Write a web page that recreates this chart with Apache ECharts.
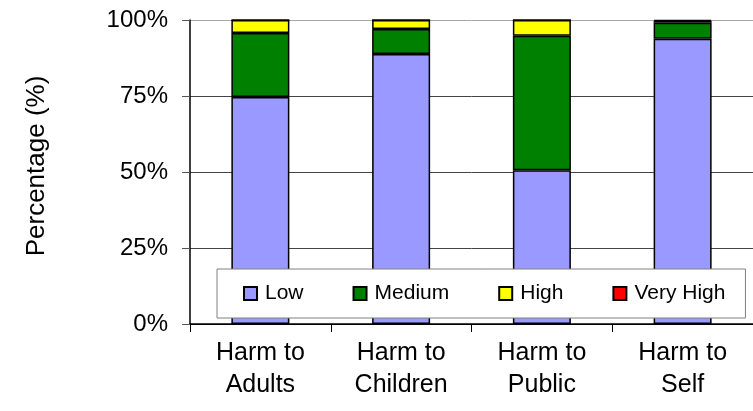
<!DOCTYPE html>
<html>
<head>
<meta charset="utf-8">
<script src="https://cdn.jsdelivr.net/npm/echarts@6/dist/echarts.min.js"></script>
<style>
html,body{margin:0;padding:0;background:#fff;}
#chart{width:753px;height:411px;}
</style>
</head>
<body>
<div id="chart"></div>
<script>
const categories = ['Harm to\nAdults', 'Harm to\nChildren', 'Harm to\nPublic', 'Harm to\nSelf'];
const lowValues = [74.7, 88.8, 50.6, 93.8];
const mediumValues = [21.0, 8.2, 44.2, 5.3];
const highValues = [4.3, 3.0, 5.2, 0.6];
const veryHighValues = [0, 0, 0, 0.3];
const yTickLabels = ['0%', '25%', '50%', '75%', '100%'];

const FONT = 'Liberation Sans, Arial, sans-serif';
const chart = echarts.init(document.getElementById('chart'), null, {renderer: 'canvas'});

function mkSeries(name, data, color) {
  return {
    name: name,
    type: 'bar',
    stack: 'total',
    data: data,
    barWidth: 58,
    itemStyle: {color: color, borderColor: '#000', borderWidth: 1.5},
    emphasis: {disabled: true}
  };
}

chart.setOption({
  animation: false,
  textStyle: {fontFamily: FONT},
  grid: {left: 190, top: 20, width: 569, height: 304, containLabel: false},
  legend: {
    left: 217, top: 269,
    backgroundColor: '#fff',
    borderColor: '#808080', borderWidth: 1,
    padding: [14, 20, 14, 26],
    itemWidth: 13, itemHeight: 13, itemGap: 49,
    icon: 'rect',
    textStyle: {fontFamily: FONT, fontSize: 21, color: '#000', padding: [0, 0, 0, 3]},
    data: ['Low', 'Medium', 'High', 'Very High']
  },
  xAxis: {
    type: 'category',
    data: categories,
    axisLine: {lineStyle: {color: '#000', width: 1.5}},
    axisTick: {show: true, length: 8, lineStyle: {color: '#000'}},
    axisLabel: {fontFamily: FONT, fontSize: 25, color: '#000', lineHeight: 32, margin: 13, interval: 0},
    splitLine: {show: false}
  },
  yAxis: {
    type: 'value',
    min: 0, max: 100, interval: 25,
    name: 'Percentage (%)',
    nameLocation: 'middle',
    nameRotate: 90,
    nameGap: 140,
    nameTextStyle: {fontFamily: FONT, fontSize: 26, color: '#000', padding: [0, 0, 0, 12]},
    axisLine: {show: true, lineStyle: {color: '#000', width: 1.5}},
    axisTick: {show: true, length: 8, lineStyle: {color: '#555'}},
    axisLabel: {
      fontFamily: FONT, fontSize: 24, color: '#000', margin: 22,
      formatter: function (v) { return yTickLabels[Math.round(v / 25)]; }
    },
    splitLine: {show: true, lineStyle: {color: ['#000', '#444', '#444', '#444', '#a8a8a8'], width: 1}}
  },
  series: [
    mkSeries('Low', lowValues, '#9999FF'),
    mkSeries('Medium', mediumValues, '#008000'),
    mkSeries('High', highValues, '#FFFF00'),
    mkSeries('Very High', veryHighValues, '#FF0000')
  ]
});
</script>
</body>
</html>
